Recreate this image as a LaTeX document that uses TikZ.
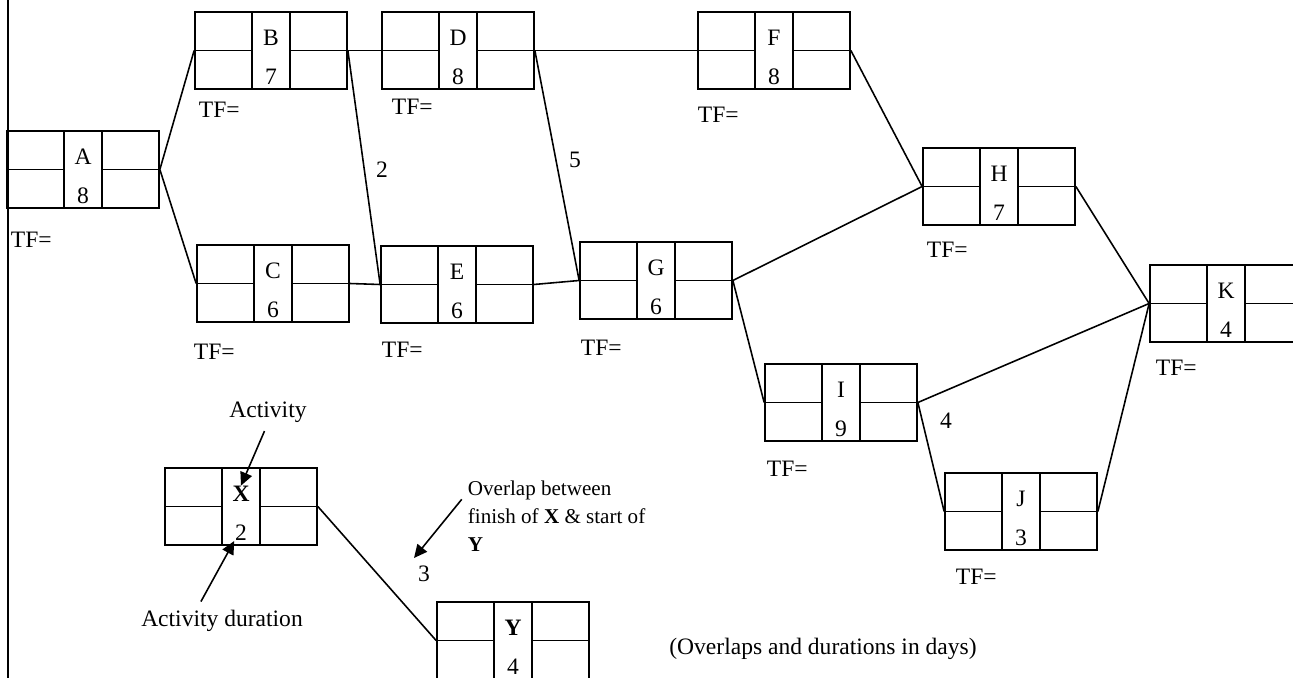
\documentclass[tikz,border=0pt]{standalone}
\usepackage{fontspec}
\setmainfont{Liberation Serif}
\usetikzlibrary{arrows.meta, calc}

% one activity box: name, centre, letter, duration
\newcommand{\activity}[4]{%
  \node[actbox] (#1) at (#2) {};
  \draw ([xshift=-0.38cm]#1.north) -- ([xshift=-0.38cm]#1.south)
        ([xshift=0.38cm]#1.north) -- ([xshift=0.38cm]#1.south)
        (#1.west) -- ([xshift=-0.38cm]#1.center)
        ([xshift=0.38cm]#1.center) -- (#1.east);
  \node[actlabel] (#1-name) at ([yshift=7pt]#1.center) {#3};
  \node[actlabel] (#1-dur) at ([yshift=-14.7pt]#1.center) {#4};
}

\begin{document}
\begin{tikzpicture}[
    x=0.02cm, y=-0.02cm, % pixel grid, y downwards
    line width=1pt,
    >={Triangle[length=7.5pt, width=7pt]},
    actbox/.style={draw, rectangle, minimum width=3.04cm, minimum height=1.54cm, inner sep=0pt},
    actlabel/.style={inner sep=0pt},
    tf/.style={anchor=west, inner sep=0pt},
    lag/.style={inner sep=1pt}
]
\useasboundingbox (0,0) rectangle (1293,678);
\fontsize{13.4}{15.5}\selectfont

% left border
\draw (8,0) -- (8,678);

% Activities
\activity{A}{83,169.5}{A}{8}
\activity{B}{271,50.5}{B}{7}
\activity{C}{273,283.5}{C}{6}
\activity{D}{458,50.5}{D}{8}
\activity{E}{457,284.5}{E}{6}
\activity{F}{774,50.5}{F}{8}
\activity{G}{656,280.5}{G}{6}
\activity{H}{999,186.5}{H}{7}
\activity{I}{841,402.5}{I}{9}
\activity{J}{1021,511.5}{J}{3}
\activity{K}{1226,303.5}{K}{4}

% Links
\foreach \a/\b in {A/B, A/C, B/D, B/E, C/E, D/F, D/G, E/G, F/H, G/H, G/I, H/K, I/K, I/J, J/K}
  \draw[line width=0.9pt] (\a.east) -- (\b.west);

% Overlaps
\node[lag] (lagBE) at (382,170) {2};
\node[lag] (lagDG) at (575,160) {5};
\node[lag] (lagIJ) at (946,421) {4};

% Total float labels
\foreach \n/\x/\y in {A/10/240, B/198/110, C/193/352, D/391/107, E/381/350, F/697/115,
                      G/580/348, H/926/250, I/766/469, J/955/577, K/1155/368}
  \node[tf] (tf\n) at (\x,\y) {TF=};

% Key
\activity{X}{241,506.5}{\textbf{X}}{2}
\activity{Y}{513,640.5}{\textbf{Y}}{4}
\draw[line width=0.9pt] (X.east) -- (Y.west);
\node[lag] (lagXY) at (424,574) {3};

\node (keyact) at (268,412) {Activity};
\draw[->, line width=0.9pt] ([xshift=-2pt]keyact.south) -- (X-name.north);

\node (keydur) at (222,621) {Activity duration};
\draw[->, line width=0.9pt] ([xshift=-12pt]keydur.north) -- (X-dur.south west);

\node[anchor=north west, align=left, inner sep=0pt, font=\fontsize{12}{16}\selectfont]
  (keylap) at (467,480) {Overlap between\\finish of \textbf{X} \& start of\\\textbf{Y}};
\coordinate (keylapend) at (414,558);
\draw[->, line width=0.9pt] ([xshift=-3pt, yshift=-11pt]keylap.north west) -- (keylapend);

\node (note) at (823,649) {(Overlaps and durations in days)};

\end{tikzpicture}
\end{document}
